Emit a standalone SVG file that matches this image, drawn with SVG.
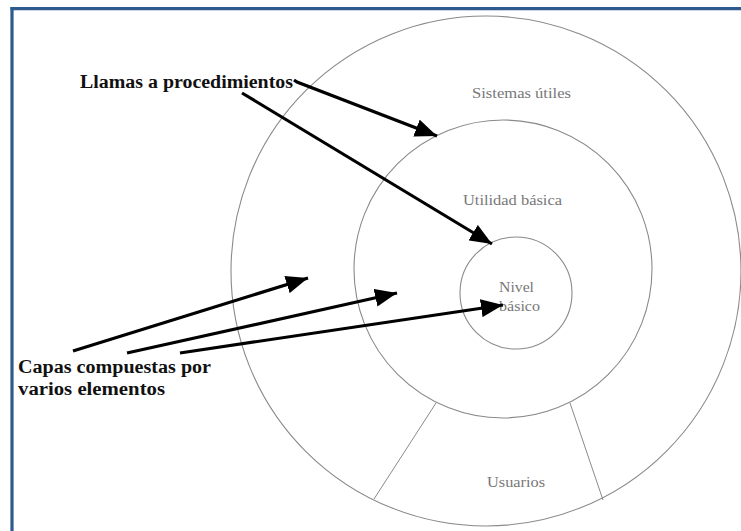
<svg xmlns="http://www.w3.org/2000/svg" width="741" height="531" viewBox="0 0 741 531">
  <style>
    .ring { fill: none; stroke: #8a8a8a; stroke-width: 1.1; }
    .divider { fill: none; stroke: #8a8a8a; stroke-width: 1; }
    .layer { font-family: "Liberation Serif", "DejaVu Serif", serif; font-size: 14.5px; fill: #777777; }
    .callout { font-family: "Liberation Serif", "DejaVu Serif", serif; font-size: 18px; font-weight: bold; fill: #111111; }
    .arrow { fill: none; stroke: #000000; stroke-width: 3.2; marker-end: url(#head); }
    .frame { stroke: #2e5a8e; stroke-width: 3.2; fill: none; }
  </style>
  <defs>
    <marker id="head" markerUnits="userSpaceOnUse" markerWidth="24" markerHeight="18" refX="22" refY="9" orient="auto">
      <path d="M0,0 L22,9 L0,18 Z" fill="#000000"/>
    </marker>
  </defs>

  <rect width="741" height="531" fill="#ffffff"/>

  <!-- page frame: top and left rule -->
  <g id="frame">
    <line class="frame" x1="10.5" y1="8.6" x2="741" y2="8.6"/>
    <line class="frame" x1="12" y1="7" x2="12" y2="531"/>
  </g>

  <!-- outer layer -->
  <g id="sistemas-utiles">
    <circle class="ring" cx="486" cy="271" r="255"/>
    <text class="layer" x="472" y="98" textLength="99" lengthAdjust="spacingAndGlyphs">Sistemas útiles</text>
  </g>

  <!-- user sector cut out of the outer layer -->
  <g id="usuarios">
    <line class="divider" x1="436" y1="403" x2="374" y2="499"/>
    <line class="divider" x1="570" y1="403" x2="603" y2="500"/>
    <text class="layer" x="487" y="487" textLength="58" lengthAdjust="spacingAndGlyphs">Usuarios</text>
  </g>

  <!-- middle layer -->
  <g id="utilidad-basica">
    <circle class="ring" cx="503" cy="269" r="149"/>
    <text class="layer" x="463" y="205" textLength="99" lengthAdjust="spacingAndGlyphs">Utilidad básica</text>
  </g>

  <!-- core -->
  <g id="nivel-basico">
    <circle class="ring" cx="516" cy="293" r="56"/>
    <text class="layer" x="499" y="292" textLength="35" lengthAdjust="spacingAndGlyphs">Nivel</text>
    <text class="layer" x="499" y="311" textLength="41" lengthAdjust="spacingAndGlyphs">básico</text>
  </g>

  <!-- callout labels -->
  <g id="llamas">
    <text class="callout" x="80" y="88" textLength="213" lengthAdjust="spacingAndGlyphs">Llamas a procedimientos</text>
  </g>
  <g id="capas">
    <text class="callout" x="18" y="373" textLength="193" lengthAdjust="spacingAndGlyphs">Capas compuestas por</text>
    <text class="callout" x="18" y="395" textLength="147" lengthAdjust="spacingAndGlyphs">varios elementos</text>
  </g>

  <!-- connectors -->
  <g id="connectors">
    <path class="arrow" d="M294,80 L297,82 L437,136"/>
    <line class="arrow" x1="242" y1="93" x2="492" y2="244"/>
    <line class="arrow" x1="73" y1="351" x2="308" y2="278"/>
    <line class="arrow" x1="127" y1="353" x2="397" y2="293"/>
    <line class="arrow" x1="180" y1="353" x2="503" y2="305"/>
  </g>
</svg>
